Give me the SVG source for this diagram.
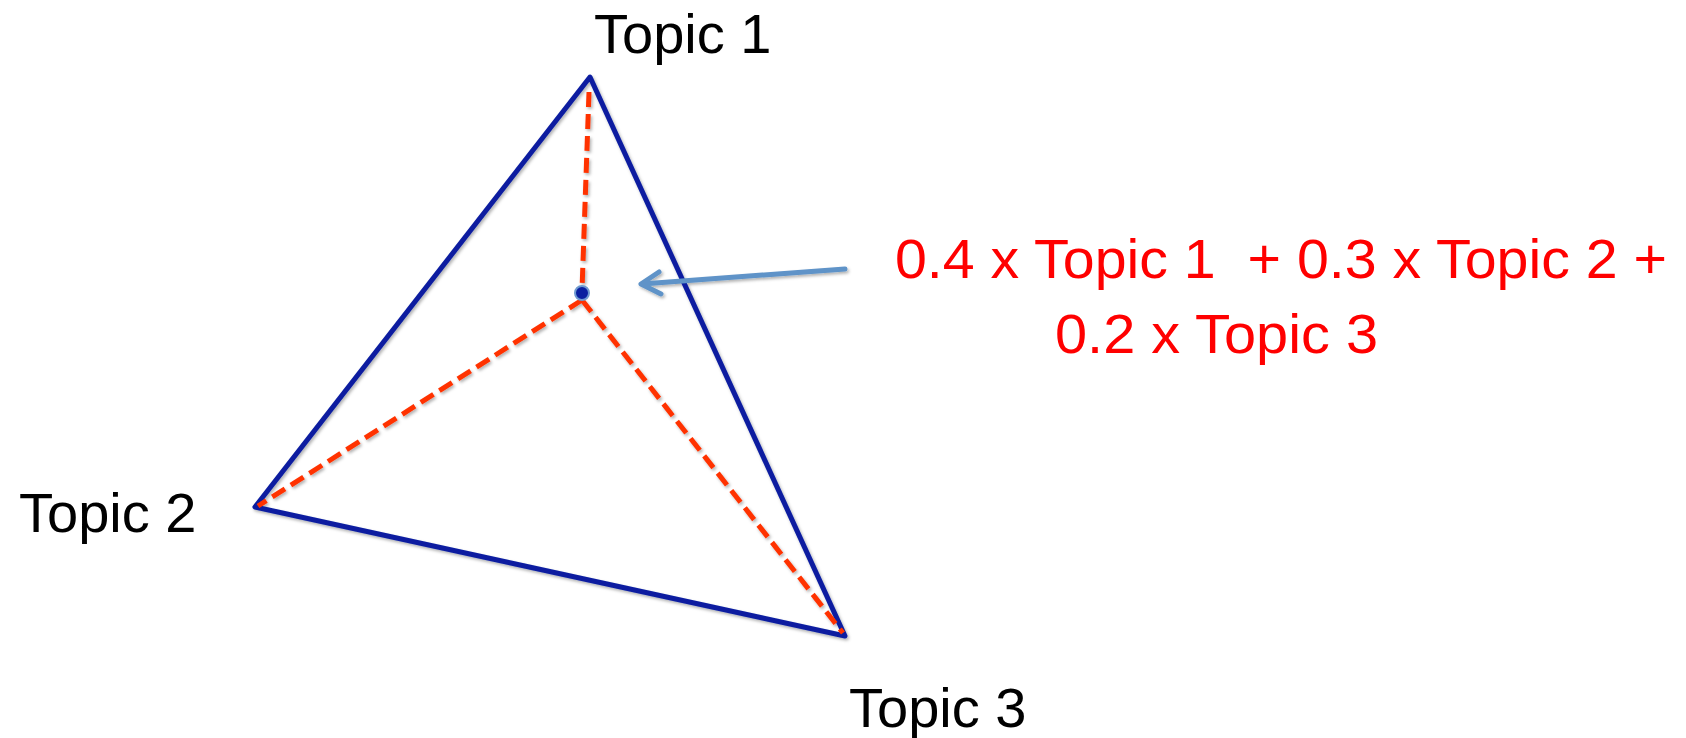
<svg xmlns="http://www.w3.org/2000/svg" width="1686" height="738" viewBox="0 0 1686 738">
<style>
.lbl{font-family:"Liberation Sans",Arial,sans-serif;font-size:56px;fill:#000}
.red{font-family:"Liberation Sans",Arial,sans-serif;font-size:56px;fill:#ff0000;white-space:pre}
.edge{stroke:#0a1fa0;stroke-width:5;fill:none;stroke-linecap:round;stroke-linejoin:round}
.dash{stroke:#ff3300;stroke-width:5;fill:none;stroke-dasharray:15 7}
.arrow{stroke:#5f93c8;stroke-width:5;fill:none;stroke-linecap:round;stroke-linejoin:round}
</style>
<defs>
<filter id="sh" x="-10%" y="-10%" width="120%" height="120%">
<feDropShadow dx="1.5" dy="2" stdDeviation="1.5" flood-color="#000" flood-opacity="0.3"/>
</filter>
</defs>
<rect width="1686" height="738" fill="#fff"/>
<g id="connectors" filter="url(#sh)">
<polygon class="edge" points="590,77 255,507 845,636"/>
<line class="dash" x1="589" y1="92" x2="582" y2="290"/>
<line class="dash" x1="582" y1="300" x2="258" y2="506"/>
<line class="dash" x1="582" y1="300" x2="843" y2="633"/>
<line class="arrow" x1="845" y1="269" x2="642" y2="284"/>
<polyline class="arrow" points="659,272 641,284 661,294"/>
</g>
<g id="point">
<circle cx="582" cy="293" r="7" fill="#0a1fa0" stroke="#6f9ad0" stroke-width="2"/>
</g>
<g id="topic1"><text class="lbl" x="594" y="53">Topic 1</text></g>
<g id="topic2"><text class="lbl" x="19" y="532">Topic 2</text></g>
<g id="topic3"><text class="lbl" x="849" y="727">Topic 3</text></g>
<g id="formula">
<text class="red" x="895" y="278" textLength="772" lengthAdjust="spacingAndGlyphs" xml:space="preserve">0.4 x Topic 1  + 0.3 x Topic 2 +</text>
<text class="red" x="1055" y="353" textLength="323" lengthAdjust="spacingAndGlyphs">0.2 x Topic 3</text>
</g>
</svg>
